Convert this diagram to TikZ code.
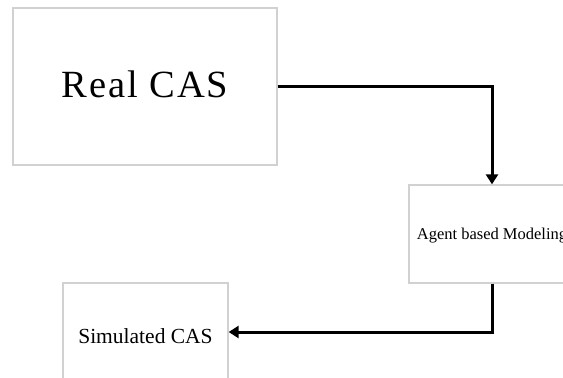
\documentclass[tikz,border=0pt]{standalone}
\usepackage{fontspec}
\setmainfont{Liberation Serif}
\usetikzlibrary{arrows.meta}
\begin{document}
\begin{tikzpicture}[x=1pt,y=-1pt,
  boxstyle/.style={draw=black!18,line width=1.3pt,rectangle,inner sep=0pt},
  conn/.style={draw=black,line width=3pt,-{Triangle[length=10pt,width=12pt]}},
  bigtext/.style={font=\fontsize{38.5}{44}\selectfont\addfontfeature{LetterSpace=5},anchor=base,inner sep=0pt},
  midtext/.style={font=\fontsize{16.5}{19}\selectfont,anchor=base,inner sep=0pt},
  simtext/.style={font=\fontsize{21.5}{25}\selectfont,anchor=base,inner sep=0pt}]
\useasboundingbox (0,0) rectangle (563,378);
\clip (0,0) rectangle (563,378);
\fill[white] (0,0) rectangle (563,378);
\node[boxstyle,minimum width=264pt,minimum height=157pt] (real) at (145,86.5) {};
\node[boxstyle,minimum width=166pt,minimum height=98pt] (abm) at (492,234) {};
\node[boxstyle,minimum width=165pt,minimum height=98pt] (sim) at (145.5,332) {};
\node[bigtext] (realtxt) at (145,97.7) {Real CAS};
\node[midtext] (abmtxt) at (492,239) {Agent based Modeling};
\node[simtext] (simtxt) at (145.5,343) {Simulated CAS};
\draw[conn] (real.east) -| (abm.north);
\draw[conn] (abm.south) |- (sim.east);
\end{tikzpicture}
\end{document}
